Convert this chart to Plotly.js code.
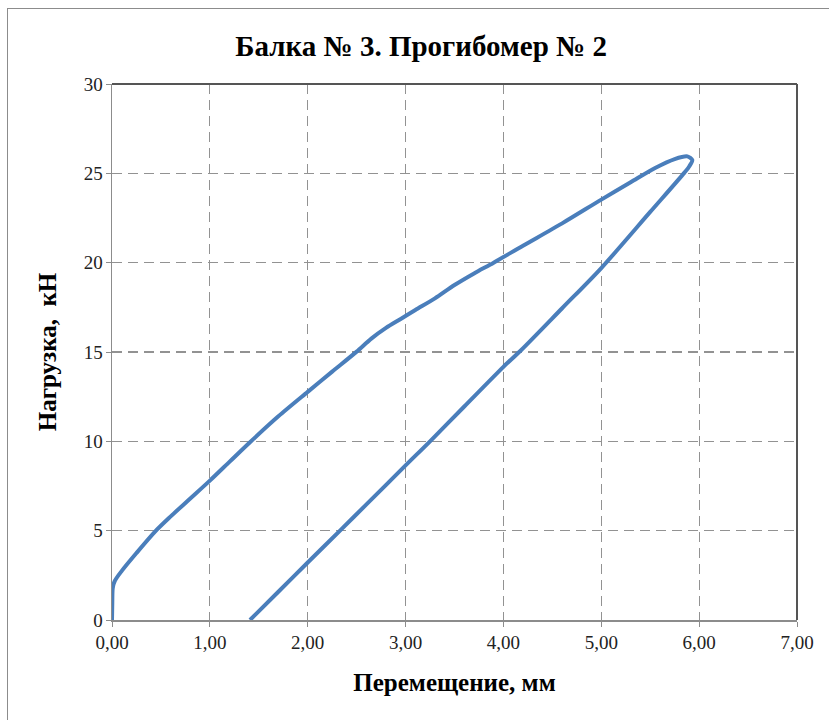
<!DOCTYPE html>
<html>
<head>
<meta charset="utf-8">
<script src="https://cdn.plot.ly/plotly-3.0.1.min.js"></script>
<style>
  html, body { margin: 0; padding: 0; background: #fff; overflow: hidden; }
  #chart { position: absolute; left: 0; top: 0; width: 829px; height: 720px; }
  #frame { position: absolute; left: 7px; top: 8px; width: 900px; height: 800px; border: 1px solid #8c8c8c; pointer-events: none; }
</style>
</head>
<body>
<div id="chart"></div>
<div id="frame"></div>
<script>
// Loading branch (displacement, mm / load, kN)
var loadX = [0, 0.003, 0.008, 0.03, 0.1, 0.25, 0.44, 0.6, 0.8, 1.0, 1.2, 1.41, 1.7, 2.0, 2.25, 2.5, 2.65, 2.8, 2.95, 3.1, 3.3, 3.5, 3.7, 3.9, 4.2, 4.6, 5.0, 5.3, 5.55, 5.75, 5.88, 5.93];
var loadY = [0, 1.0, 1.8, 2.2, 2.75, 3.75, 4.95, 5.8, 6.8, 7.8, 8.85, 9.95, 11.4, 12.77, 13.9, 15.02, 15.75, 16.35, 16.85, 17.35, 18.0, 18.75, 19.4, 20.0, 20.95, 22.2, 23.53, 24.5, 25.3, 25.8, 25.95, 25.75];
// Unloading branch
var unloadX = [5.9, 5.85, 5.5, 5.0, 4.6, 4.18, 4.0, 3.6, 3.25, 3.0, 2.6, 2.33, 2.0, 1.7, 1.41];
var unloadY = [25.4, 25.04, 22.84, 19.7, 17.45, 15.1, 14.17, 11.95, 10.0, 8.65, 6.47, 5.0, 3.22, 1.58, 0];

var xs = loadX.concat(unloadX);
var ys = loadY.concat(unloadY);

var titleText = 'Балка № 3. Прогибомер № 2';
var xTitle = 'Перемещение, мм';
var yTitle = 'Нагрузка,&nbsp; кН';

var serif = 'Liberation Serif, Times New Roman, serif';

var trace = {
  x: xs, y: ys, type: 'scatter', mode: 'lines',
  line: { color: '#4a7ebb', width: 4, shape: 'spline', smoothing: 0.8 },
  hoverinfo: 'skip'
};

var layout = {
  width: 829, height: 720,
  margin: { l: 112, r: 32, t: 84, b: 100 },
  paper_bgcolor: '#ffffff', plot_bgcolor: '#ffffff',
  font: { family: serif, size: 19, color: '#222' },
  separators: ', ',
  showlegend: false,
  title: { text: '<b>' + titleText + '</b>', font: { family: serif, size: 29, color: '#000' }, x: 0.508, xref: 'container', xanchor: 'center', y: 0.937, yanchor: 'middle' },
  xaxis: {
    range: [0, 7], dtick: 1, tick0: 0, tickformat: '.2f',
    showgrid: true, gridcolor: '#929292', gridwidth: 1.2, griddash: '10px,6px',
    showline: true, linecolor: '#8c8c8c', linewidth: 1.5,
    ticks: 'outside', ticklen: 5, tickcolor: '#8c8c8c', tickwidth: 1,
    zeroline: false, fixedrange: true,
    tickfont: { family: serif, size: 19, color: '#222' },
    title: { text: '<b>' + xTitle + '</b>', font: { family: serif, size: 25, color: '#000' }, standoff: 21 }
  },
  yaxis: {
    range: [0, 30], dtick: 5, tick0: 0,
    showgrid: true, gridcolor: '#929292', gridwidth: 1.2, griddash: '10px,6px',
    showline: true, linecolor: '#8c8c8c', linewidth: 1.5,
    ticks: 'outside', ticklen: 5, tickcolor: '#8c8c8c', tickwidth: 1, ticklabelstandoff: -1,
    zeroline: false, fixedrange: true,
    tickfont: { family: serif, size: 19, color: '#222' },
    title: { text: '<b>' + yTitle + '</b>', font: { family: serif, size: 25, color: '#000' }, standoff: 20 }
  },
  shapes: [
    { type: 'line', xref: 'paper', yref: 'paper', x0: 0, x1: 1, y0: 1, y1: 1, line: { color: '#555', width: 2 } },
    { type: 'line', xref: 'paper', yref: 'paper', x0: 1, x1: 1, y0: 0, y1: 1, line: { color: '#555', width: 2 } }
  ]
};

Plotly.newPlot('chart', [trace], layout, { displayModeBar: false, staticPlot: true });
</script>
</body>
</html>
